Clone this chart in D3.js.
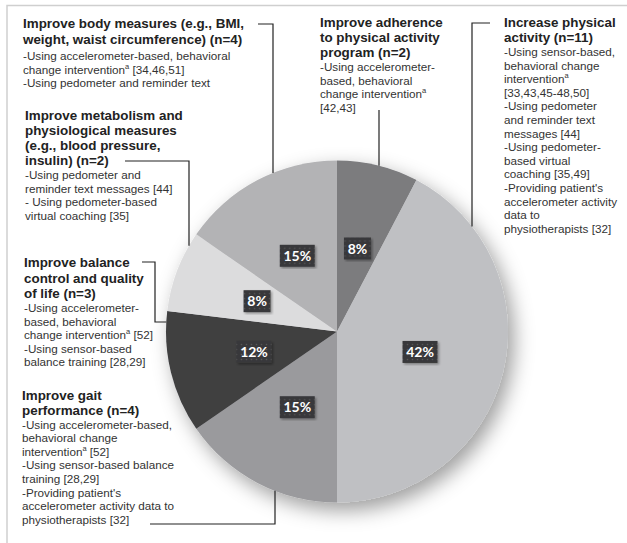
<!DOCTYPE html>
<html>
<head>
<meta charset="utf-8">
<script src="https://cdn.jsdelivr.net/npm/d3@7"></script>
<style>
  html, body { margin: 0; padding: 0; background: #fff; }
  svg { display: block; }
</style>
</head>
<body>
<svg id="chart" width="627" height="543"></svg>
<script>
// outcome categories, clockwise from 12 o'clock
const categories = ["adherence", "physical", "gait", "balance", "metabolism", "body"];
const studyCounts = [2, 11, 4, 3, 2, 4];
const sliceColors = ["#7b7b7e", "#bfc0c3", "#9a9a9d", "#3f3f41", "#dcdcdd", "#b3b3b5"];

// "^a" marks a superscript a
const headers = {
  body: ["Improve body measures (e.g., BMI,", "weight, waist circumference) (n=4)"],
  metabolism: ["Improve metabolism and", "physiological measures", "(e.g., blood pressure,", "insulin) (n=2)"],
  balance: ["Improve balance", "control and quality", "of life (n=3)"],
  gait: ["Improve gait", "performance (n=4)"],
  adherence: ["Improve adherence", "to physical activity", "program (n=2)"],
  physical: ["Increase physical", "activity (n=11)"]
};

const bodies = {
  body: ["-Using accelerometer-based, behavioral", "change intervention^a [34,46,51]", "-Using pedometer and reminder text"],
  metabolism: ["-Using pedometer and", "reminder text messages [44]", "- Using pedometer-based", "virtual coaching [35]"],
  balance: ["-Using accelerometer-", "based, behavioral", "change intervention^a [52]", "-Using sensor-based", "balance training [28,29]"],
  gait: ["-Using accelerometer-based,", "behavioral change", "intervention^a [52]", "-Using sensor-based balance", "training [28,29]", "-Providing patient's", "accelerometer activity data to", "physiotherapists [32]"],
  adherence: ["-Using accelerometer-", "based, behavioral", "change intervention^a", "[42,43]"],
  physical: ["-Using sensor-based,", "behavioral change", "intervention^a", "[33,43,45-48,50]", "-Using pedometer", "and reminder text", "messages [44]", "-Using pedometer-", "based virtual", "coaching [35,49]", "-Providing patient's", "accelerometer activity", "data to", "physiotherapists [32]"]
};

const W = 627, H = 543;
const cx = 337, cy = 331.5, R = 171;

const svg = d3.select("#chart");
const defs = svg.append("defs");

const shadow = defs.append("filter")
  .attr("id", "pie-shadow")
  .attr("x", "-20%").attr("y", "-20%")
  .attr("width", "140%").attr("height", "140%");
shadow.append("feDropShadow")
  .attr("dx", 6).attr("dy", 8)
  .attr("stdDeviation", 10)
  .attr("flood-color", "#000")
  .attr("flood-opacity", 0.38);

const dots = defs.append("pattern")
  .attr("id", "dots")
  .attr("width", 5).attr("height", 5)
  .attr("patternUnits", "userSpaceOnUse");
dots.append("rect").attr("width", 5).attr("height", 5).attr("fill", "#38383a");
dots.append("circle").attr("cx", 2.5).attr("cy", 2.5).attr("r", 0.8).attr("fill", "#55555a");

const boxShadow = defs.append("filter").attr("id", "box-shadow");
boxShadow.append("feDropShadow")
  .attr("dx", 1.5).attr("dy", 1.5)
  .attr("stdDeviation", 1.2)
  .attr("flood-opacity", 0.35);

// frame
svg.append("path")
  .attr("d", `M7,${H} V5.5 H${W}`)
  .attr("fill", "none")
  .attr("stroke", "#cfcfcf")
  .attr("stroke-width", 1.5);

// pie
const total = d3.sum(studyCounts);
const pie = d3.pie().sort(null).value(d => d.n);
const arc = d3.arc().innerRadius(0).outerRadius(R);
const slices = pie(categories.map((c, i) => ({ key: c, n: studyCounts[i], color: sliceColors[i] })));

const pieG = svg.append("g").attr("transform", `translate(${cx},${cy})`);
pieG.append("g")
  .attr("filter", "url(#pie-shadow)")
  .selectAll("path")
  .data(slices)
  .join("path")
  .attr("d", arc)
  .attr("fill", d => d.data.color);

// connector lines, ending on the pie edge
const edgeY = (x, sign) => cy + sign * Math.sqrt(R * R - (x - cx) * (x - cx));
const leaders = [
  [[258, 24], [273, 24], [273, edgeY(273, -1)]],
  [[125, 161], [189, 161], [189, edgeY(189, -1)]],
  [[142, 262], [155, 262], [155, 322], [cx - Math.sqrt(R * R - (322 - cy) ** 2), 322]],
  [[150, 524], [275, 524], [275, edgeY(275, 1)]],
  [[379, 110], [379, edgeY(379, -1)]],
  [[490, 23], [472, 23], [472, edgeY(472, -1)]]
];
svg.append("g")
  .selectAll("path")
  .data(leaders)
  .join("path")
  .attr("d", d3.line())
  .attr("fill", "none")
  .attr("stroke", "#222")
  .attr("stroke-width", 1.2);

// percent labels
const labels = pieG.append("g")
  .selectAll("g")
  .data(slices)
  .join("g")
  .attr("transform", d => `translate(${arc.centroid(d)})`);

labels.append("rect")
  .attr("x", d => (d.data.n / total * 100 < 10 ? -13.5 : -17.5))
  .attr("y", -11)
  .attr("width", d => (d.data.n / total * 100 < 10 ? 27 : 35))
  .attr("height", 22)
  .attr("fill", "url(#dots)")
  .attr("filter", "url(#box-shadow)");

labels.append("text")
  .attr("text-anchor", "middle")
  .attr("dy", "0.36em")
  .attr("font-family", "Lato, 'Open Sans', sans-serif")
  .attr("font-weight", "bold")
  .attr("font-size", 14)
  .attr("fill", "#fff")
  .text(d => `${Math.round(d.data.n / total * 100)}%`);

// annotation blocks
const blockPos = {
  body: { x: 23, y: 28, hStep: 16, gap: 16 },
  metabolism: { x: 25, y: 120, hStep: 15, gap: 14 },
  balance: { x: 24, y: 267, hStep: 15.5, gap: 14 },
  gait: { x: 22, y: 400, hStep: 15, gap: 13.5 },
  adherence: { x: 320, y: 27, hStep: 15, gap: 14 },
  physical: { x: 504, y: 27, hStep: 15, gap: 14 }
};
const bodyStep = 13.6;

function writeLine(sel, str) {
  const parts = str.split("^a");
  parts.forEach((p, i) => {
    if (i > 0) {
      sel.append("tspan")
        .attr("font-size", 7.5)
        .attr("baseline-shift", "60%")
        .text("a");
    }
    if (p) sel.append("tspan").text(p);
  });
}

const blocks = svg.append("g")
  .selectAll("g")
  .data(categories)
  .join("g");

blocks.each(function(key) {
  const g = d3.select(this);
  const p = blockPos[key];
  headers[key].forEach((line, i) => {
    g.append("text")
      .attr("x", p.x)
      .attr("y", p.y + i * p.hStep)
      .attr("font-family", "'Liberation Sans', Arial, sans-serif")
      .attr("font-weight", "bold")
      .attr("font-size", 13.4)
      .attr("fill", "#222")
      .text(line);
  });
  const y0 = p.y + (headers[key].length - 1) * p.hStep + p.gap;
  bodies[key].forEach((line, i) => {
    const t = g.append("text")
      .attr("x", p.x)
      .attr("y", y0 + i * bodyStep)
      .attr("font-family", "'Liberation Sans', Arial, sans-serif")
      .attr("font-size", 11.7)
      .attr("fill", "#333");
    writeLine(t, line);
  });
});
</script>
</body>
</html>
